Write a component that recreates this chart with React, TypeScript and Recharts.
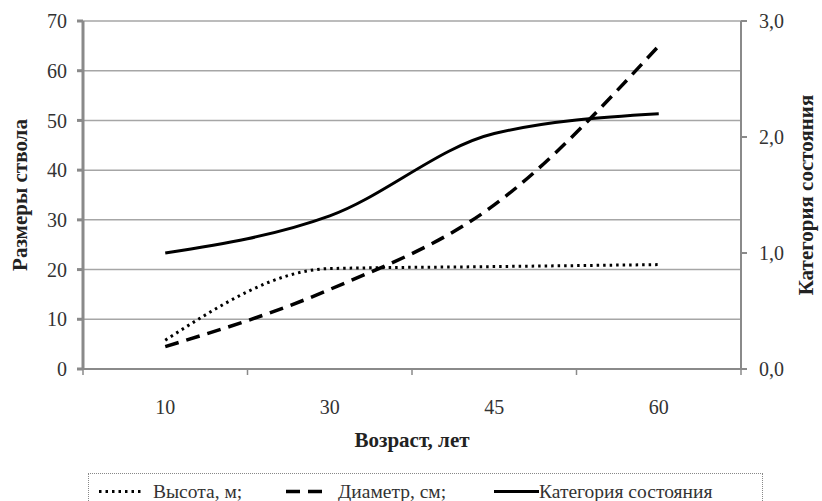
import React from 'react';
import { LineChart, Line, XAxis, YAxis, CartesianGrid } from 'recharts';

const ages = ['10', '30', '45', '60'];
const heightM = [5.8, 20.2, 20.6, 21.0];
const diameterCm = [4.5, 16, 33, 65];
const category = [1.0, 1.32, 2.03, 2.2];
const leftTicks = [0, 10, 20, 30, 40, 50, 60, 70];
const rightTicks = [0, 1, 2, 3];

const seriesNames = ['Высота, м;', 'Диаметр, см;', 'Категория состояния'];

const data = ages.map((a, i) => ({
  age: a,
  h: heightM[i],
  d: diameterCm[i],
  c: category[i],
}));

const FONT = '"Liberation Serif", "Times New Roman", serif';
const AXIS = '#8a8a8a';
const TXT = '#333';

const XTick = (props: any) => {
  const { x, y, payload, index, visibleTicksCount } = props;
  const half = payload && typeof payload.offset === 'number' && payload.offset > 0 ? payload.offset : 82.25;
  const axisY = y - 31;
  return (
    <g>
      <line x1={x - half} x2={x - half} y1={axisY} y2={axisY + 6} stroke={AXIS} strokeWidth={1.5} />
      {index === visibleTicksCount - 1 && (
        <line x1={x + half} x2={x + half} y1={axisY} y2={axisY + 6} stroke={AXIS} strokeWidth={1.5} />
      )}
      <text x={x} y={y} dy="0.71em" textAnchor="middle" fill={TXT} fontSize={20} fontFamily={FONT}>
        {payload.value}
      </text>
    </g>
  );
};

export default function App() {
  return (
    <div style={{ position: 'absolute', left: 0, top: 0, width: 822, height: 501, background: '#fff', fontFamily: FONT }}>
      <LineChart width={822} height={470} data={data} margin={{ top: 21, right: 0, bottom: 21, left: 0 }}>
        <CartesianGrid yAxisId="left" vertical={false} stroke="#a6a6a6" strokeWidth={1.5} />
        <XAxis
          dataKey="age"
          scale="band"
          height={80}
          stroke={AXIS}
          strokeWidth={2}
          tickLine={false}
          tickSize={0}
          tickMargin={31}
          tick={<XTick />}
          interval={0}
          label={{ value: 'Возраст, лет', position: 'insideBottom', offset: 2, fill: '#222', fontSize: 21, fontWeight: 'bold', fontFamily: FONT }}
        />
        <YAxis
          yAxisId="left"
          width={83}
          domain={[0, 70]}
          ticks={leftTicks}
          interval={0}
          stroke={AXIS}
          strokeWidth={3}
          tickSize={6}
          tickMargin={10}
          tick={{ fill: TXT, fontSize: 20, fontFamily: FONT }}
          label={{ value: 'Размеры ствола', angle: -90, position: 'insideLeft', offset: 20, fill: '#222', fontSize: 21, fontWeight: 'bold', fontFamily: FONT, style: { textAnchor: 'middle' } }}
        />
        <YAxis
          yAxisId="right"
          orientation="right"
          width={81}
          domain={[0, 3]}
          ticks={rightTicks}
          interval={0}
          stroke={AXIS}
          strokeWidth={2}
          tickSize={6}
          tickMargin={12}
          tickFormatter={(v: number) => v.toFixed(1).replace('.', ',')}
          tick={{ fill: TXT, fontSize: 20, fontFamily: FONT }}
          label={{ value: 'Категория состояния', angle: -90, position: 'insideRight', offset: 16, fill: '#222', fontSize: 21, fontWeight: 'bold', fontFamily: FONT, style: { textAnchor: 'middle' } }}
        />
        <Line yAxisId="left" type="monotone" dataKey="h" name={seriesNames[0]} stroke="#000" strokeWidth={3} strokeDasharray="2.5 4" dot={false} isAnimationActive={false} />
        <Line yAxisId="left" type="monotone" dataKey="d" name={seriesNames[1]} stroke="#000" strokeWidth={3.5} strokeDasharray="14 8" dot={false} isAnimationActive={false} />
        <Line yAxisId="right" type="monotone" dataKey="c" name={seriesNames[2]} stroke="#000" strokeWidth={3} dot={false} isAnimationActive={false} />
      </LineChart>
      <div style={{ position: 'absolute', left: 88, top: 473, width: 675, height: 40, border: '1px dotted #888', boxSizing: 'border-box' }}>
        <svg width={675} height={40} style={{ position: 'absolute', left: 0, top: 0 }}>
          <line x1={10} x2={55} y1={17.5} y2={17.5} stroke="#000" strokeWidth={3} strokeDasharray="2.5 4" />
          <line x1={197} x2={235} y1={17.5} y2={17.5} stroke="#000" strokeWidth={3.5} strokeDasharray="14 8" />
          <line x1={405} x2={450} y1={17.5} y2={17.5} stroke="#000" strokeWidth={3} />
          <text x={64} y={17.5} dy="0.35em" fontSize={19.5} fontFamily={FONT} fill={TXT}>{seriesNames[0]}</text>
          <text x={249} y={17.5} dy="0.35em" fontSize={19.5} fontFamily={FONT} fill={TXT}>{seriesNames[1]}</text>
          <text x={450} y={17.5} dy="0.35em" fontSize={19.5} fontFamily={FONT} fill={TXT}>{seriesNames[2]}</text>
        </svg>
      </div>
    </div>
  );
}
